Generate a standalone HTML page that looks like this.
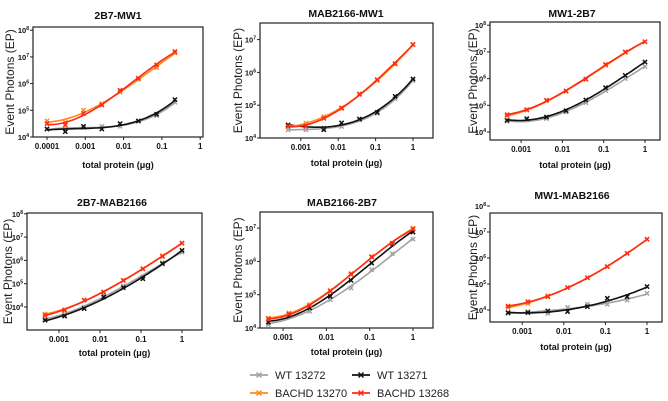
<!DOCTYPE html>
<html><head><meta charset="utf-8"><style>
html,body{margin:0;padding:0;background:#fff;}
svg{display:block;font-family:"Liberation Sans",Arial,sans-serif;}
</style></head><body>
<svg id="chart" width="668" height="401" viewBox="0 0 668 401"></svg>
<script>
// ---- data (log10 of Event Photons) ----
const seriesNames = ["WT 13272","WT 13271","BACHD 13270","BACHD 13268"];
const seriesColors = ["#a3a3a3","#111111","#ff8a1c","#ff2a14"];
const panelTitles = ["2B7-MW1","MAB2166-MW1","MW1-2B7","2B7-MAB2166","MAB2166-2B7","MW1-MAB2166"];
const xValsA = [0.0001,0.0003,0.0009,0.0027,0.0081,0.0243,0.0729,0.2187];
const xValsB = [0.000457,0.00137,0.00412,0.0123,0.037,0.111,0.333,1];
const p1Gray   = [4.3,4.3,4.35,4.4,4.4,4.6,4.8,5.3];
const p1Black  = [4.3,4.2,4.4,4.3,4.5,4.6,4.85,5.4];
const p1Orange = [4.6,4.55,5.0,5.25,5.68,6.17,6.6,7.15];
const p1Red    = [4.5,4.45,4.88,5.2,5.75,6.2,6.7,7.2];
const p2Gray   = [4.25,4.25,4.3,4.35,4.55,4.75,5.2,5.75];
const p2Black  = [4.4,4.38,4.25,4.46,4.58,4.78,5.27,5.8];
const p2Orange = [4.35,4.45,4.65,4.9,5.35,5.75,6.25,6.85];
const p2Red    = [4.36,4.36,4.6,4.92,5.33,5.78,6.27,6.85];
const p3Gray   = [4.4,4.45,4.5,4.75,5.1,5.55,6.0,6.45];
const p3Black  = [4.44,4.5,4.56,4.8,5.2,5.66,6.12,6.62];
const p3Orange = [4.6,4.82,5.17,5.52,5.97,6.5,6.98,7.38];
const p3Red    = [4.65,4.84,5.19,5.54,5.98,6.53,7.0,7.38];
const p4Gray   = [3.5,3.7,4.0,4.5,4.9,5.3,5.9,6.35];
const p4Black  = [3.43,3.61,3.93,4.43,4.83,5.21,5.86,6.43];
const p4Orange = [3.7,3.88,4.3,4.65,5.15,5.63,6.2,6.74];
const p4Red    = [3.64,3.86,4.29,4.64,5.14,5.64,6.17,6.74];
const p5Gray   = [4.1,4.35,4.5,4.85,5.2,5.75,6.23,6.67];
const p5Black  = [4.17,4.4,4.6,4.95,5.43,5.95,6.53,6.88];
const p5Orange = [4.3,4.45,4.7,5.13,5.6,6.15,6.55,7.0];
const p5Red    = [4.27,4.42,4.67,5.1,5.63,6.13,6.55,6.97];
const p6Gray   = [3.87,3.94,3.87,4.1,4.22,4.22,4.38,4.64];
const p6Black  = [3.9,3.9,3.96,3.94,4.13,4.45,4.51,4.9];
const p6Orange = [4.1,4.25,4.55,4.86,5.24,5.67,6.18,6.72];
const p6Red    = [4.15,4.32,4.51,4.86,5.24,5.67,6.18,6.72];
const xTicksA = [0.0001,0.001,0.01,0.1,1];
const xTickLabelsA = ["0.0001","0.001","0.01","0.1","1"];
const xTicksB = [0.001,0.01,0.1,1];
const xTickLabelsB = ["0.001","0.01","0.1","1"];
const yTicks48 = [4,5,6,7,8];
const yTicks47 = [4,5,6,7];

// ---- layout ----
const panels = [
 {title:0, L:33,T:27,R:203,B:137, y4:137,yd:26.7, xRef:1,xRefPx:47+4*38.3,xd:38.3, xs:xValsA, ticks:xTicksA, tl:xTickLabelsA, yt:yTicks48, data:[p1Gray,p1Black,p1Orange,p1Red], tx:118,ty:15, ytx:10, xly:165},
 {title:1, L:260,T:23,R:433,B:138, y4:138,yd:32.8, xRef:1,xRefPx:413,xd:37.4, xs:xValsB, ticks:xTicksB, tl:xTickLabelsB, yt:yTicks47, data:[p2Gray,p2Black,p2Orange,p2Red], tx:346,ty:13, ytx:238, xly:163},
 {title:2, L:490,T:22,R:660,B:140, y4:132,yd:26.7, xRef:1,xRefPx:645,xd:41.3, xs:xValsB, ticks:xTicksB, tl:xTickLabelsB, yt:yTicks48, data:[p3Gray,p3Black,p3Orange,p3Red], tx:572,ty:13, ytx:473, xly:165},
 {title:3, L:27,T:213,R:202,B:330, y4:307,yd:23.3, xRef:1,xRefPx:182,xd:41, xs:xValsB, ticks:xTicksB, tl:xTickLabelsB, yt:yTicks48, data:[p4Gray,p4Black,p4Orange,p4Red], tx:112,ty:202, ytx:8, xly:353},
 {title:4, L:260,T:212,R:433,B:328, y4:328,yd:33.3, xRef:1,xRefPx:413,xd:43.3, xs:xValsB, ticks:xTicksB, tl:xTickLabelsB, yt:yTicks47, data:[p5Gray,p5Black,p5Orange,p5Red], tx:342,ty:202, ytx:238, xly:352},
 {title:5, L:490,T:213,R:662,B:322, y4:310,yd:26,  xRef:1,xRefPx:647,xd:41.6, xs:xValsB, ticks:xTicksB, tl:xTickLabelsB, yt:yTicks48, data:[p6Gray,p6Black,p6Orange,p6Red], tx:572,ty:195, ytx:473, xly:347}
];
const NS="http://www.w3.org/2000/svg";
const svg=document.getElementById('chart');
function mk(tag,attrs,parent){const e=document.createElementNS(NS,tag);for(const k in attrs)e.setAttribute(k,attrs[k]);(parent||svg).appendChild(e);return e;}
// least-squares cubic fit in log-log space
function polyFit(xs,ys,deg){
  const n=deg+1;const A=[];for(let i=0;i<n;i++){A.push(new Array(n+1).fill(0));}
  for(let k=0;k<xs.length;k++){for(let i=0;i<n;i++){for(let j=0;j<n;j++)A[i][j]+=Math.pow(xs[k],i+j);A[i][n]+=ys[k]*Math.pow(xs[k],i);}}
  for(let i=0;i<n;i++){let m=i;for(let r=i+1;r<n;r++)if(Math.abs(A[r][i])>Math.abs(A[m][i]))m=r;[A[i],A[m]]=[A[m],A[i]];
    for(let r=0;r<n;r++){if(r===i)continue;const f=A[r][i]/A[i][i];for(let c=i;c<=n;c++)A[r][c]-=f*A[i][c];}}
  return A.map((row,i)=>row[n]/row[i]);
}
function drawX(g,x,y,color,s){
  mk('path',{d:`M${x-s},${y-s}L${x+s},${y+s}M${x-s},${y+s}L${x+s},${y-s}`,stroke:color,'stroke-width':1.5,fill:'none'},g);
}
panels.forEach((p,pi)=>{
  const g=mk('g',{});
  
  
  const xs=v=>p.xRefPx+p.xd*(Math.log10(v)-Math.log10(p.xRef));
  const ys=l=>p.y4-p.yd*(l-4);
  const t=mk('text',{x:p.tx,y:p.ty+4,'text-anchor':'middle','font-size':10.5,'font-weight':'bold',fill:'#111'},g);
  t.textContent=panelTitles[p.title];
  
  
  const box=mk('rect',{x:p.L,y:p.T,width:p.R-p.L,height:p.B-p.T,fill:'none',stroke:'#222','stroke-width':1.2},g);
  
  
  p.yt.forEach(l=>{
    const y=ys(l);
    mk('line',{x1:p.L-3,x2:p.L,y1:y,y2:y,stroke:'#222','stroke-width':1},g);
    const tx=mk('text',{x:p.L-4,y:y+3,'text-anchor':'end','font-size':7.5,'font-weight':'bold',fill:'#111'},g);
    tx.textContent='10';
    const sup=mk('tspan',{dy:-3,'font-size':5},tx);sup.textContent=String(l);
    
    
  });
  p.ticks.forEach((v,i)=>{
    const x=xs(v);
    mk('line',{x1:x,x2:x,y1:p.B,y2:p.B+3,stroke:'#222','stroke-width':1},g);
    const tx=mk('text',{x:x,y:p.B+12,'text-anchor':'middle','font-size':8,'font-weight':'bold',fill:'#111'},g);
    tx.textContent=p.tl[i];
    
    
  });
  const xl=mk('text',{x:(p.L+p.R)/2,y:p.xly+3,'text-anchor':'middle','font-size':9,'font-weight':'bold',fill:'#111'},g);
  xl.textContent='total protein (μg)';
  
  
  const cy=(p.T+p.B)/2;
  const yl=mk('text',{x:p.ytx,y:cy,'text-anchor':'middle','font-size':12,fill:'#222',transform:`rotate(-90 ${p.ytx} ${cy})`,dy:4},g);
  yl.textContent='Event Photons (EP)';
  
  
  p.data.forEach((vals,si)=>{
    const lx=p.xs.map(v=>Math.log10(v));
    const c=polyFit(lx,vals,3);
    let d="";
    const a=lx[0],b=lx[lx.length-1];
    for(let k=0;k<=60;k++){
      const u=a+(b-a)*k/60;
      const l=c[0]+c[1]*u+c[2]*u*u+c[3]*u*u*u;
      const X=xs(Math.pow(10,u)),Y=ys(l);
      d+=(k?"L":"M")+X.toFixed(1)+","+Y.toFixed(1);
    }
    const path=mk('path',{d:d,stroke:seriesColors[si],'stroke-width':1.6,fill:'none'},g);
    
    
    vals.forEach((l,i)=>drawX(g,xs(p.xs[i]),ys(l),seriesColors[si],2.1));
  });
});
// legend
const legPos=[[250,375],[352,375],[250,393],[352,393]];
seriesNames.forEach((n,i)=>{
  const g=mk('g',{});
  
  
  const [x,y]=legPos[i];
  mk('line',{x1:x,x2:x+18,y1:y,y2:y,stroke:seriesColors[i],'stroke-width':1.8},g);
  drawX(g,x+9,y,seriesColors[i],2.5);
  const t=mk('text',{x:x+25,y:y+4,'font-size':11,fill:'#222'},g);
  t.textContent=n;
});
</script>
</body></html>
